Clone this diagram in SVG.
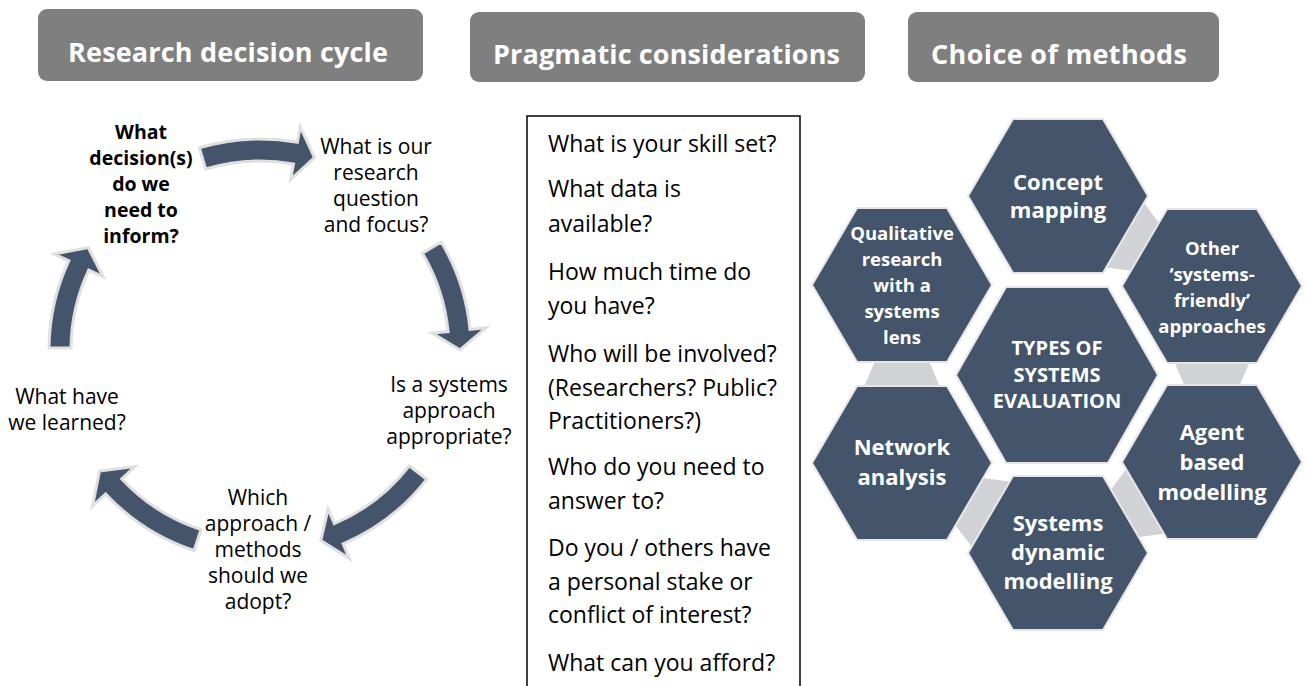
<svg xmlns="http://www.w3.org/2000/svg" width="1308" height="686" viewBox="0 0 1308 686">
<style>
.hdr{fill:#7F7F7F}
.hdrt{font-family:"Open Sans","Liberation Sans",sans-serif;font-weight:bold;font-size:27px;fill:#FFFFFF}
.cyc{font-family:"Open Sans","Liberation Sans",sans-serif;font-size:21px;fill:#000000;text-anchor:middle}
.cycb{font-family:"Open Sans","Liberation Sans",sans-serif;font-size:19.5px;font-weight:bold;fill:#000000;text-anchor:middle}
.arr{fill:#44546A;stroke:#E0E0E0;stroke-width:3;stroke-linejoin:miter}
.box{fill:#FFFFFF;stroke:#000000;stroke-width:1.5}
.bt{font-family:"Open Sans","Liberation Sans",sans-serif;font-size:23px;fill:#000000}
.hex{fill:#44546A;stroke:#E6E6E6;stroke-width:2}
.ht{font-family:"Open Sans","Liberation Sans",sans-serif;font-weight:bold;fill:#FFFFFF;text-anchor:middle}
.big{font-size:22px}
.sm{font-size:18.5px}
.mid{font-size:20px}
.tr{fill:#D0D2D5}
</style>
<rect width="1308" height="686" fill="#FFFFFF"/>

<g id="header-research">
<rect class="hdr" x="38" y="9" width="385" height="72" rx="9"/>
<text class="hdrt" x="68" y="62" textLength="320">Research decision cycle</text>
</g>
<g id="header-pragmatic">
<rect class="hdr" x="470" y="12" width="395" height="70" rx="9"/>
<text class="hdrt" x="493" y="64" textLength="347">Pragmatic considerations</text>
</g>
<g id="header-choice">
<rect class="hdr" x="908" y="12" width="311" height="70" rx="9"/>
<text class="hdrt" x="931" y="64" textLength="256">Choice of methods</text>
</g>

<g id="connectors">
<path class="arr" d="M199.4,147.9 A211,211 0 0 1 297.4,142.3 L300.2,126.6 L314.5,157.6 L290.6,179.7 L293.5,164.0 A189,189 0 0 0 205.7,169.0 Z"/>
<path class="arr" d="M441.2,242.0 A211,211 0 0 1 470.0,329.4 L485.9,327.8 L460,350 L432.2,333.1 L448.1,331.6 A189,189 0 0 0 422.4,253.2 Z"/>
<path class="arr" d="M426.7,479.3 A211,211 0 0 1 343.1,543.9 L349.4,558.6 L320.8,540.5 L328.1,509.0 L334.4,523.7 A189,189 0 0 0 409.3,465.8 Z"/>
<path class="arr" d="M194.1,550.5 A211,211 0 0 1 105.7,493.9 L92.5,506.2 L99.5,471.0 L134.9,466.6 L121.8,478.9 A189,189 0 0 0 201.0,529.6 Z"/>
<path class="arr" d="M49.0,347.8 A211,211 0 0 1 68.8,260.8 L54.3,254.1 L88.2,247.6 L103.2,276.9 L88.7,270.1 A189,189 0 0 0 71.0,348.0 Z"/>
<polygon class="tr" points="1143.0,201.6 1159.8,224.3 1132.6,270.9 1104.6,267.2"/>
<polygon class="tr" points="1174,361 1250,361 1239,387 1185,387"/>
<polygon class="tr" points="1126.9,468.2 1165.5,533.6 1137.5,537.3 1110.1,490.9"/>
<polygon class="tr" points="1010.3,481.6 982.2,478.1 955.2,524.9 972.3,547.4"/>
<polygon class="tr" points="864,387 940,387 929,361 875,361"/>
</g>

<g id="node-decision">
<text class="cycb"><tspan x="141" y="139">What</tspan><tspan x="141" y="165">decision(s)</tspan><tspan x="141" y="191">do we</tspan><tspan x="141" y="217">need to</tspan><tspan x="141" y="243">inform?</tspan></text>
</g>
<g id="node-question">
<text class="cyc"><tspan x="376" y="154">What is our</tspan><tspan x="376" y="180">research</tspan><tspan x="376" y="206">question</tspan><tspan x="376" y="232">and focus?</tspan></text>
</g>
<g id="node-systems">
<text class="cyc"><tspan x="449" y="392">Is a systems</tspan><tspan x="449" y="418">approach</tspan><tspan x="449" y="444">appropriate?</tspan></text>
</g>
<g id="node-approach">
<text class="cyc"><tspan x="258" y="505">Which</tspan><tspan x="258" y="531">approach /</tspan><tspan x="258" y="557">methods</tspan><tspan x="258" y="583">should we</tspan><tspan x="258" y="609">adopt?</tspan></text>
</g>
<g id="node-learned">
<text class="cyc"><tspan x="67" y="404">What have</tspan><tspan x="67" y="430">we learned?</tspan></text>
</g>

<g id="pragmatic-box">
<rect class="box" x="527" y="116" width="273" height="600"/>
<text class="bt">
<tspan x="548" y="152">What is your skill set?</tspan>
<tspan x="548" y="197">What data is</tspan>
<tspan x="548" y="232">available?</tspan>
<tspan x="548" y="280">How much time do</tspan>
<tspan x="548" y="314">you have?</tspan>
<tspan x="548" y="362">Who will be involved?</tspan>
<tspan x="548" y="396">(Researchers? Public?</tspan>
<tspan x="548" y="429">Practitioners?)</tspan>
<tspan x="548" y="475">Who do you need to</tspan>
<tspan x="548" y="509">answer to?</tspan>
<tspan x="548" y="556">Do you / others have</tspan>
<tspan x="548" y="590">a personal stake or</tspan>
<tspan x="548" y="623">conflict of interest?</tspan>
<tspan x="548" y="671">What can you afford?</tspan>
</text>
</g>

<g id="hex-concept">
<polygon class="hex" points="1013,119 1103,119 1148,196 1103,273 1013,273 968,196"/>
<text class="ht big"><tspan x="1058" y="190">Concept</tspan><tspan x="1058" y="218">mapping</tspan></text>
</g>
<g id="hex-other">
<polygon class="hex" points="1167,209 1257,209 1302,286 1257,363 1167,363 1122,286"/>
<text class="ht sm"><tspan x="1212" y="255">Other</tspan><tspan x="1212" y="281">‘systems-</tspan><tspan x="1212" y="307">friendly’</tspan><tspan x="1212" y="333">approaches</tspan></text>
</g>
<g id="hex-agent">
<polygon class="hex" points="1167,385 1257,385 1302,462 1257,539 1167,539 1122,462"/>
<text class="ht big"><tspan x="1212" y="440">Agent</tspan><tspan x="1212" y="470">based</tspan><tspan x="1212" y="500">modelling</tspan></text>
</g>
<g id="hex-sysdyn">
<polygon class="hex" points="1013,476 1103,476 1148,553 1103,630 1013,630 968,553"/>
<text class="ht big"><tspan x="1058" y="531">Systems</tspan><tspan x="1058" y="560">dynamic</tspan><tspan x="1058" y="589">modelling</tspan></text>
</g>
<g id="hex-network">
<polygon class="hex" points="857,386 947,386 992,463 947,540 857,540 812,463"/>
<text class="ht big"><tspan x="902" y="455">Network</tspan><tspan x="902" y="485">analysis</tspan></text>
</g>
<g id="hex-qualitative">
<polygon class="hex" points="857,208 947,208 992,285 947,362 857,362 812,285"/>
<text class="ht sm"><tspan x="902" y="240">Qualitative</tspan><tspan x="902" y="266">research</tspan><tspan x="902" y="292">with a</tspan><tspan x="902" y="318">systems</tspan><tspan x="902" y="344">lens</tspan></text>
</g>
<g id="hex-center">
<polygon class="hex" points="1006,287 1108,287 1158,375 1108,463 1006,463 956,375"/>
<text class="ht mid"><tspan x="1057" y="355">TYPES OF</tspan><tspan x="1057" y="382">SYSTEMS</tspan><tspan x="1057" y="408">EVALUATION</tspan></text>
</g>
</svg>
